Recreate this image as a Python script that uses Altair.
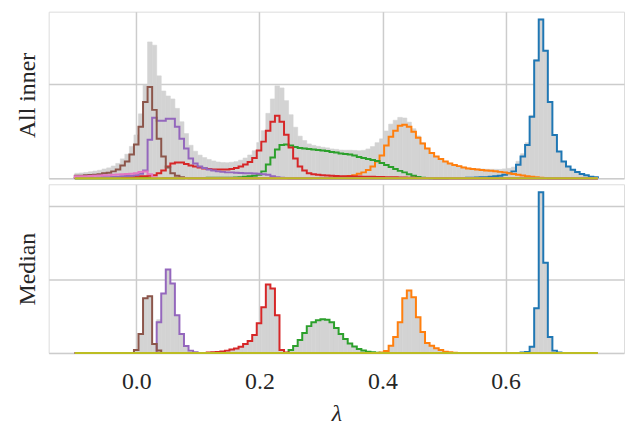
import altair as alt
import pandas as pd

# ---------------- data ----------------
LAMBDA_MIN, LAMBDA_MAX, N_BINS = -0.1, 0.75, 115
X_DOMAIN = [-0.1425, 0.7925]
X_TICKS = [0.0, 0.2, 0.4, 0.6]

SERIES_ORDER = ["blue", "orange", "green", "red", "purple", "brown", "pink", "olive"]
COLORS = {
    "blue": "#1f77b4", "orange": "#ff7f0e", "green": "#2ca02c", "red": "#d62728",
    "purple": "#9467bd", "brown": "#8c564b", "pink": "#e377c2", "olive": "#bcbd22",
}

# "All inner" panel: (first bin index, counts per bin)
top_blue = (80, [0.1, 0.1, 0.2, 0.2, 0.3, 0.4, 0.5, 0.6, 0.8, 1, 1.2, 1.5, 2, 2.5, 3.5, 5, 7,
                 13.7, 22, 33.7, 62, 118.7, 160, 128.7, 77, 43.7, 27, 17, 12, 8.7, 6.3, 4.3, 3, 1.7, 1])
top_orange = (50, [0.1, 0.15, 0.2, 0.25, 0.3, 0.4, 0.5, 0.8, 1.2, 1.7, 2.3, 3.2, 4.5, 6, 8.5, 12, 17,
                   23, 33, 42, 48, 53, 54, 52, 47, 41, 35, 30, 25.5, 22, 19.5, 17, 15, 13.5, 12.3,
                   11, 10, 9.3, 8.8, 8.4, 8, 7.6, 7.1, 6.5, 6, 5, 4.3, 3.5, 2.8, 2.2, 1.6, 1.0, 0.6,
                   0.3, 0.15])
top_green = (24, [0.2, 0.3, 0.3, 0.4, 0.4, 0.5, 0.5, 0.6, 0.6, 0.7, 0.7, 0.8, 1, 1.5, 2, 2.5, 3.5,
                  7, 14, 21, 29, 33.5, 34, 33, 31.5, 30.5, 30, 29.5, 29, 28.5, 28, 27.5, 26.5, 26,
                  25, 24.5, 24, 23, 21.5, 20.5, 19.5, 18.5, 17.5, 15.5, 13.5, 11.5, 9.5, 7.5, 6,
                  4, 2.5, 1.3, 0.6, 0.2])
top_red = (0, [0.2, 0.2, 0.2, 0.3, 0.3, 0.3, 0.4, 0.4, 0.5, 0.5, 0.6, 0.7, 1, 1.5, 2, 2.2, 2.5, 3,
               5, 8, 12, 15, 16, 16, 14.5, 13, 12, 11, 10, 9.5, 9, 8.8, 8.8, 9, 9.5, 10.5, 12, 14,
               16.5, 20.5, 28, 37, 48, 57, 63, 57, 44, 31, 20, 12, 8, 5, 4, 3.5, 3, 2.8, 2.6, 2.4,
               2.2, 2.1, 2, 1.9, 1.8, 1.7, 1.6, 1.5, 1.4, 1.3, 1.2, 1.1, 1.0, 0.9, 0.8, 0.6, 0.5,
               0.4, 0.3, 0.2, 0.2, 0.1])
top_purple = (0, [0.4, 0.5, 0.5, 0.6, 0.7, 0.8, 1, 1.2, 1.4, 1.7, 2, 2.3, 2.6, 3, 4.5, 8, 39, 61,
                  58, 58, 60, 60, 52, 40, 30, 20, 15, 12, 10.5, 9, 8, 7, 6.5, 6, 6, 5.5, 5.3, 5,
                  5, 4.8, 4.5, 4, 3.5, 2, 1.2, 0.6, 0.3, 0.1])
top_brown = (0, [2.5, 2.7, 3, 3.3, 3.7, 4.2, 5, 5.7, 7, 9, 13, 17, 24, 34, 52, 77, 92, 69, 40, 22,
                 11, 5, 2.5, 1, 0.4])
top_pink = (0, [2, 2, 2.2, 2.4, 2.6, 2.8, 3, 3.2, 3.5, 3.8, 4, 4.3, 4.6, 5.2, 6.5, 6.8, 4, 1.2, 0.3])
top_olive = (0, [])

# "Median" panel
med_blue = (98, [0.4, 1, 6.3, 45, 162, 91, 16, 2.3, 0.5])
med_orange = (67, [0.3, 2, 7.3, 16, 31, 55, 63, 56, 36, 21, 10, 7.3, 4.7, 3, 1.3, 0.7, 0.2])
med_green = (47, [3, 7, 13, 20, 27, 31, 33, 34, 33.5, 31, 25, 19, 14, 9.5, 6.5, 4, 2.5, 1.3, 0.6, 0.2])
med_red = (29, [0.3, 0.6, 1, 1.5, 2.3, 3.5, 4.5, 6.3, 9, 12, 18, 30, 46, 69, 65, 38, 3, 0.3])
med_purple = (18, [31, 60, 84, 70, 38, 19, 7, 2.3, 0.7])
med_brown = (13, [3, 19, 55, 57, 9, 2.5])
med_pink = (0, [])
med_olive = (0, [])

TOP = {"blue": top_blue, "orange": top_orange, "green": top_green, "red": top_red,
       "purple": top_purple, "brown": top_brown, "pink": top_pink, "olive": top_olive}
MED = {"blue": med_blue, "orange": med_orange, "green": med_green, "red": med_red,
       "purple": med_purple, "brown": med_brown, "pink": med_pink, "olive": med_olive}

TOP_Y_DOMAIN, TOP_Y_GRID = [0, 168], [0, 95, 190]
MED_Y_DOMAIN, MED_Y_GRID = [0, 170], [0, 74, 148]

# ---------------- styling ----------------
FONT = "Liberation Serif, Times New Roman, serif"
TEXT = "#262626"
GRID = "#cccccc"
FILL = "#d3d3d3"
W = 580

edges = [LAMBDA_MIN + (LAMBDA_MAX - LAMBDA_MIN) * i / N_BINS for i in range(N_BINS + 1)]


def counts(start, vals):
    h = [0.0] * N_BINS
    for j, v in enumerate(vals):
        h[start + j] = v
    return h


def panel(series, ydom, ygrid, title, bottom, height):
    bars = []
    for name in SERIES_ORDER:
        h = counts(*series[name])
        for i in range(N_BINS):
            bars.append({"lo": edges[i], "hi": edges[i + 1], "series": name, "count": h[i]})
    bars = pd.DataFrame(bars)

    if bottom:
        xaxis = alt.Axis(values=X_TICKS, format=".1f", grid=True, gridColor=GRID, gridWidth=1.5,
                         ticks=False, tickSize=0, domain=False, labelFont=FONT, labelFontSize=24,
                         labelColor=TEXT, labelPadding=17, title="λ", titleFont=FONT,
                         titleFontSize=24, titleFontStyle="italic", titleFontWeight="normal",
                         titleColor=TEXT, titlePadding=8)
    else:
        xaxis = alt.Axis(values=X_TICKS, grid=True, gridColor=GRID, gridWidth=1.5, labels=False,
                         ticks=False, tickSize=0, domain=False, title=None,
                         minExtent=0, maxExtent=0, labelPadding=0)
    yaxis = alt.Axis(values=ygrid, grid=True, gridColor=GRID, gridWidth=1.5, labels=False,
                     ticks=False, tickSize=0, domain=False, title=title, titleFont=FONT,
                     titleFontSize=24, titleFontWeight="normal", titleColor=TEXT, titlePadding=9)
    xs = alt.Scale(domain=X_DOMAIN, nice=False, zero=False)
    ys = alt.Scale(domain=ydom, nice=False)

    fill = alt.Chart(bars).transform_aggregate(
        total="sum(count)", groupby=["lo", "hi"]
    ).mark_rect(color=FILL, stroke=FILL, strokeWidth=0.6).encode(
        x=alt.X("lo:Q", scale=xs, axis=xaxis),
        x2="hi:Q",
        y=alt.Y("total:Q", scale=ys, axis=yaxis),
        y2=alt.datum(0),
    )

    layers = [fill]
    for name in SERIES_ORDER:
        h = counts(*series[name])
        pts = [{"x": edges[0], "y": 0.0}]
        for i in range(N_BINS):
            pts.append({"x": edges[i], "y": h[i]})
            pts.append({"x": edges[i + 1], "y": h[i]})
        pts.append({"x": edges[-1], "y": 0.0})
        df = pd.DataFrame(pts)
        df["k"] = range(len(df))
        layers.append(
            alt.Chart(df).mark_line(color=COLORS[name], strokeWidth=2, strokeJoin="miter").encode(
                x=alt.X("x:Q", scale=xs, axis=xaxis),
                y=alt.Y("y:Q", scale=ys, axis=yaxis),
                order="k:Q",
            )
        )
    return alt.layer(*layers).properties(width=W, height=height)


top = panel(TOP, TOP_Y_DOMAIN, TOP_Y_GRID, "All inner", False, 168)
med = panel(MED, MED_Y_DOMAIN, MED_Y_GRID, "Median", True, 170)

chart = alt.vconcat(top, med, spacing=6, bounds="flush").properties(
    padding={"left": 7, "top": 1, "right": 0, "bottom": 0}
).configure_view(stroke=GRID, strokeWidth=1.5).configure(background="white")

chart.save("out.html", embed_options={"renderer": "svg", "actions": False})
